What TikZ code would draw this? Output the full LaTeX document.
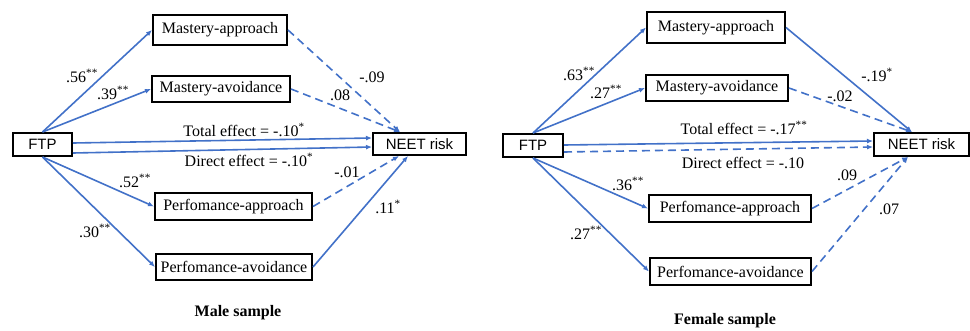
\documentclass[tikz,border=0pt]{standalone}
\usepackage{fontspec}
\setmainfont{Liberation Serif}
\setsansfont{Liberation Sans}
\usetikzlibrary{arrows.meta}
\definecolor{lineblue}{RGB}{66,113,200}
\tikzset{
  boxn/.style={draw=black, line width=2pt, inner sep=0pt, font=\fontsize{16}{18}\selectfont},
  sboxn/.style={boxn, font=\sffamily\fontsize{15}{17}\selectfont},
  lbl/.style={inner sep=0pt, font=\fontsize{16}{18}\selectfont},
  ttl/.style={inner sep=0pt, font=\bfseries\fontsize{16}{18}\selectfont},
  conn/.style={draw=lineblue, line width=1.6pt, -{Latex[length=6pt,width=5pt]}},
  dconn/.style={conn, dash pattern=on 8pt off 5pt},
}
\newcommand{\supst}[1]{\textsuperscript{#1}}
\begin{document}
\begin{tikzpicture}[x=1pt,y=-1pt]
\useasboundingbox (0,0) rectangle (970,330);
% ---------------- Male sample ----------------
\node[sboxn, minimum width=59pt, minimum height=23pt] (mftp) at (42.5,144.5) {FTP};
\node[sboxn, minimum width=93pt, minimum height=22pt] (mneet) at (419.5,144) {NEET risk};
\node[boxn, minimum width=134pt, minimum height=30pt] (mma) at (220,30) {Mastery-approach};
\node[boxn, minimum width=138pt, minimum height=26pt] (mmv) at (221,89) {Mastery-avoidance};
\node[boxn, minimum width=157pt, minimum height=27pt] (mpa) at (233.5,206.5) {Perfomance-approach};
\node[boxn, minimum width=156pt, minimum height=26pt] (mpv) at (234,267) {Perfomance-avoidance};

\draw[conn] (mftp.north) -- (mma.west);
\draw[conn] (mftp.north) -- (mmv.west);
\draw[conn] (mftp.south) -- (mpa.west);
\draw[conn] (mftp.south) -- (mpv.west);
\draw[conn] ([yshift=1.5pt]mftp.east) -- ([yshift=6pt]mneet.west);
\draw[conn] ([yshift=-8.5pt]mftp.east) -- ([yshift=-3pt]mneet.west);
\draw[dconn] (mma.east) -- ([xshift=-19.5pt]mneet.north);
\draw[dconn] (mmv.east) -- ([xshift=-19.5pt]mneet.north);
\draw[dconn] (mpa.east) -- ([xshift=-20.5pt]mneet.south);
\draw[conn] (mpv.east) -- ([xshift=-11.5pt]mneet.south);

\node[lbl] (ml1) at (82,76) {.56\supst{**}};
\node[lbl] (ml2) at (113,93) {.39\supst{**}};
\node[lbl] (ml3) at (372,77) {-.09};
\node[lbl] (ml4) at (340,95) {.08};
\node[lbl] (ml5) at (244,130) {Total effect = -.10\supst{*}};
\node[lbl] (ml6) at (249,160) {Direct effect = -.10\supst{*}};
\node[lbl] (ml7) at (347,172) {-.01};
\node[lbl] (ml8) at (135,181) {.52\supst{**}};
\node[lbl] (ml9) at (95,231) {.30\supst{**}};
\node[lbl] (ml10) at (388,207) {.11\supst{*}};
\node[ttl] (mt) at (238,313) {Male sample};

% ---------------- Female sample ----------------
\node[sboxn, minimum width=60pt, minimum height=23pt] (fftp) at (533,145.5) {FTP};
\node[sboxn, minimum width=95pt, minimum height=23pt] (fneet) at (921.5,144.5) {NEET risk};
\node[boxn, minimum width=138pt, minimum height=31pt] (fma) at (716,27.5) {Mastery-approach};
\node[boxn, minimum width=142pt, minimum height=26pt] (fmv) at (717,88) {Mastery-avoidance};
\node[boxn, minimum width=162pt, minimum height=27pt] (fpa) at (730,208.5) {Perfomance-approach};
\node[boxn, minimum width=161pt, minimum height=27pt] (fpv) at (730.5,271.5) {Perfomance-avoidance};

\draw[conn] (fftp.north) -- (fma.west);
\draw[conn] (fftp.north) -- (fmv.west);
\draw[conn] (fftp.south) -- (fpa.west);
\draw[conn] (fftp.south) -- (fpv.west);
\draw[conn] ([yshift=0.5pt]fftp.east) -- ([yshift=3.5pt]fneet.west);
\draw[dconn] ([yshift=-6.5pt]fftp.east) -- ([yshift=-2.5pt]fneet.west);
\draw[conn] (fma.east) -- ([xshift=-9.5pt]fneet.north);
\draw[dconn] (fmv.east) -- ([xshift=-9.5pt]fneet.north);
\draw[dconn] (fpa.east) -- ([xshift=-13.5pt]fneet.south);
\draw[dconn] (fpv.east) -- ([xshift=-13.5pt]fneet.south);

\node[lbl] (fl1) at (579,74) {.63\supst{**}};
\node[lbl] (fl2) at (606,92) {.27\supst{**}};
\node[lbl] (fl3) at (877,75) {-.19\supst{*}};
\node[lbl] (fl4) at (840,96) {-.02};
\node[lbl] (fl5) at (744,128) {Total effect = -.17\supst{**}};
\node[lbl] (fl6) at (743,163) {Direct effect = -.10};
\node[lbl] (fl7) at (847,175) {.09};
\node[lbl] (fl8) at (628,184) {.36\supst{**}};
\node[lbl] (fl9) at (586,233) {.27\supst{**}};
\node[lbl] (fl10) at (889,209) {.07};
\node[ttl] (ft) at (725,321) {Female sample};
\end{tikzpicture}
\end{document}
